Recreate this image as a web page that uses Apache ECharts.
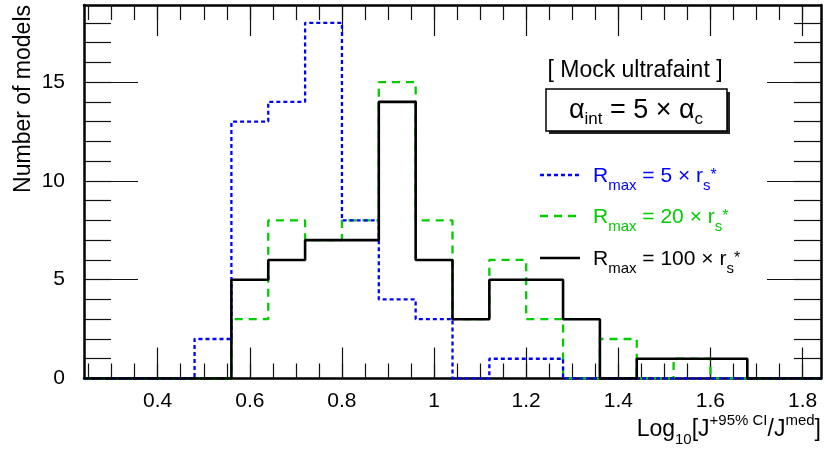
<!DOCTYPE html>
<html>
<head>
<meta charset="utf-8">
<script src="https://cdn.jsdelivr.net/npm/echarts@6/dist/echarts.min.js"></script>
<style>
html,body{margin:0;padding:0;background:#fff;}
#chart{width:830px;height:457px;}
</style>
</head>
<body>
<div id="chart"></div>
<script>
// ---- data ----
const binEdges = [0.24,0.32,0.40,0.48,0.56,0.64,0.72,0.80,0.88,0.96,1.04,1.12,1.20,1.28,1.36,1.44,1.52,1.60,1.68,1.76,1.84];
const countsR5   = [0,0,0,2,13,14,18,8,4,3,0,1,1,0,0,0,0,0,0,0];
const countsR20  = [0,0,0,0,3,8,7,8,15,8,3,6,3,0,2,0,1,0,0,0];
const countsR100 = [0,0,0,0,5,6,7,7,14,6,3,5,5,3,0,1,1,1,0,0];
const xMajorTicks = [0.4,0.6,0.8,1,1.2,1.4,1.6,1.8];
const xMinorTicks = [0.25,0.30,0.35,0.40,0.45,0.50,0.55,0.60,0.65,0.70,0.75,0.80,0.85,0.90,0.95,1.00,1.05,1.10,1.15,1.20,1.25,1.30,1.35,1.40,1.45,1.50,1.55,1.60,1.65,1.70,1.75,1.80];
const yMajorTicks = [0,5,10,15];
const yMinorTicks = [1,2,3,4,5,6,7,8,9,10,11,12,13,14,15,16,17,18];
const xMin = 0.24, xMax = 1.84, yMin = 0, yMax = 18.9;

const FONT = "'Liberation Sans', Arial, Helvetica, sans-serif";
const BLUE = '#0000ff', GREEN = '#00cc00', BLACK = '#000000';

function stepData(counts) {
  const pts = counts.map((c, i) => [binEdges[i], c]);
  pts.push([binEdges[binEdges.length - 1], counts[counts.length - 1]]);
  return pts;
}

function xAxisDef(pos, ticks, len, showLine, showLabel) {
  return {
    type: 'value', position: pos, min: xMin, max: xMax,
    axisLine: {show: showLine, onZero: false, lineStyle: {color: BLACK, width: 2.5}},
    axisTick: {show: true, inside: true, length: len, customValues: ticks, lineStyle: {color: '#111', width: 1.2}},
    axisLabel: showLabel ? {show: true, customValues: ticks, margin: 12, fontFamily: FONT, fontSize: 21, color: BLACK} : {show: false},
    splitLine: {show: false}
  };
}
function yAxisDef(pos, ticks, len, showLine, showLabel) {
  return {
    type: 'value', position: pos, min: yMin, max: yMax,
    axisLine: {show: showLine, onZero: false, lineStyle: {color: BLACK, width: 2.5}},
    axisTick: {show: true, inside: true, length: len, customValues: ticks, lineStyle: {color: '#111', width: 1.2}},
    axisLabel: showLabel ? {show: true, customValues: ticks, margin: 19, fontFamily: FONT, fontSize: 21, color: BLACK} : {show: false},
    splitLine: {show: false}
  };
}

const richMain = (color, size, subSize) => ({
  m: {fontFamily: FONT, fontSize: size, fill: color, lineHeight: 34, verticalAlign: 'middle'},
  sub: {fontFamily: FONT, fontSize: subSize, fill: color, lineHeight: 14, verticalAlign: 'bottom'},
  sup: {fontFamily: FONT, fontSize: subSize, fill: color, lineHeight: 14, verticalAlign: 'top'},
  star: {fontFamily: FONT, fontSize: subSize + 1, fill: color, lineHeight: 34, verticalAlign: 'middle'}
});

function legendText(label) {
  return '{m|R}{sub|max}{m| = ' + label + ' \u00d7 r}{sub|s}{star|*}';
}

const chart = echarts.init(document.getElementById('chart'), null, {renderer: 'canvas'});
const option = {
  animation: false,
  backgroundColor: '#ffffff',
  grid: {left: 84, right: 9, top: 5, bottom: 78.5, containLabel: false},
  xAxis: [
    xAxisDef('bottom', xMajorTicks, 31, true, true),
    xAxisDef('bottom', xMinorTicks, 15, false, false),
    xAxisDef('top', xMajorTicks, 31, true, false),
    xAxisDef('top', xMinorTicks, 15, false, false)
  ],
  yAxis: [
    yAxisDef('left', yMajorTicks, 54, true, true),
    yAxisDef('left', yMinorTicks, 27, false, false),
    yAxisDef('right', yMajorTicks, 54, true, false),
    yAxisDef('right', yMinorTicks, 27, false, false)
  ],
  series: [
    {name: 'R20', type: 'line', step: 'end', symbol: 'none', data: stepData(countsR20),
     lineStyle: {color: GREEN, width: 2.3, type: [8, 6]}, z: 3},
    {name: 'R5', type: 'line', step: 'end', symbol: 'none', data: stepData(countsR5),
     lineStyle: {color: BLUE, width: 2.3, type: [4, 3]}, z: 4},
    {name: 'R100', type: 'line', step: 'end', symbol: 'none', data: stepData(countsR100),
     lineStyle: {color: BLACK, width: 2.6, type: 'solid'}, z: 5}
  ],
  graphic: [
    // y-axis title
    {type: 'text', x: 24, y: 5, rotation: Math.PI / 2,
     style: {text: 'Number of models', fontFamily: FONT, fontSize: 23, fill: BLACK, align: 'right', verticalAlign: 'middle'}},
    // x-axis title
    {type: 'text', x: 821, y: 430,
     style: {text: '{m|Log}{sub|10}{m|[J}{sup|+95% CI}{m|/J}{sup|med}{m|]}',
             rich: richMain(BLACK, 23, 15), align: 'right', verticalAlign: 'middle'}},
    // header
    {type: 'text', x: 635, y: 71,
     style: {text: '[ Mock ultrafaint ]', fontFamily: FONT, fontSize: 23, fill: BLACK, align: 'center', verticalAlign: 'middle'}},
    // box shadow and box
    {type: 'rect', shape: {x: 549, y: 92, width: 181, height: 42}, style: {fill: '#222'}},
    {type: 'rect', shape: {x: 546, y: 89, width: 181, height: 42}, style: {fill: '#fff', stroke: BLACK, lineWidth: 1.5}},
    {type: 'text', x: 636, y: 111,
     style: {text: '{m|\u03b1}{sub|int}{m| = 5 \u00d7 \u03b1}{sub|c}', rich: richMain(BLACK, 27, 17), align: 'center', verticalAlign: 'middle'}},
    // legend
    {type: 'line', shape: {x1: 540, y1: 175, x2: 580, y2: 175}, style: {stroke: BLUE, lineWidth: 2.3, lineDash: [4, 3]}},
    {type: 'text', x: 593, y: 176,
     style: {text: legendText('5'), rich: richMain(BLUE, 21, 15), align: 'left', verticalAlign: 'middle'}},
    {type: 'line', shape: {x1: 540, y1: 216, x2: 580, y2: 216}, style: {stroke: GREEN, lineWidth: 2.3, lineDash: [8, 6]}},
    {type: 'text', x: 593, y: 217,
     style: {text: legendText('20'), rich: richMain(GREEN, 21, 15), align: 'left', verticalAlign: 'middle'}},
    {type: 'line', shape: {x1: 540, y1: 258, x2: 580, y2: 258}, style: {stroke: BLACK, lineWidth: 2.6}},
    {type: 'text', x: 593, y: 259,
     style: {text: legendText('100'), rich: richMain(BLACK, 21, 15), align: 'left', verticalAlign: 'middle'}}
  ]
};
chart.setOption(option);
</script>
</body>
</html>
